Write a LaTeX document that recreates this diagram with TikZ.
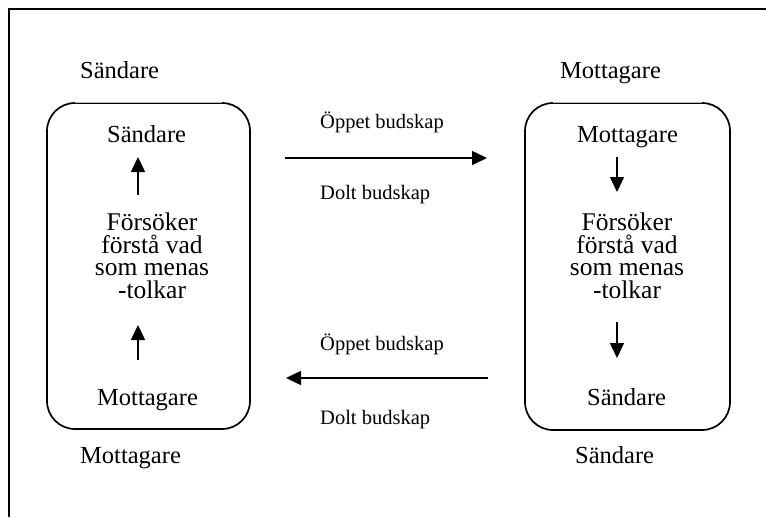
\documentclass[tikz,border=0pt]{standalone}
\usepackage{fontspec}
\setmainfont{Liberation Serif}
\usetikzlibrary{arrows.meta}

\begin{document}
\begin{tikzpicture}[x=1pt,y=-1pt,
  big/.style={font=\fontsize{24.5}{21.7}\selectfont, inner sep=0pt},
  multi/.style={font=\fontsize{25.5}{22.5}\selectfont, inner sep=0pt, align=center},
  small/.style={font=\fontsize{20.5}{24}\selectfont, inner sep=0pt},
  frame/.style={draw, line width=1.7pt, rounded corners=28pt, inner sep=0pt},
  flow/.style={line width=1.5pt, -{Triangle[length=15pt,width=14pt]}},
  topedge/.style={draw=gray!55, line width=0.6pt},
]
\useasboundingbox (0,0) rectangle (766,517);

% outer frame: top and left edges only
\draw[line width=1.8pt] (9,517) -- (9,9) -- (766,9);

% the two rounded boxes
\node[frame, minimum width=203pt, minimum height=326pt] (boxL) at (148.5,266) {};
\node[frame, minimum width=205pt, minimum height=327pt] (boxR) at (627.5,266.5) {};
% the straight top edges are drawn thin and light
\draw[white, line width=2.4pt] ([xshift=29pt]boxL.north west) -- ([xshift=-29pt]boxL.north east);
\draw[topedge] ([xshift=29pt]boxL.north west) -- ([xshift=-29pt]boxL.north east);
\draw[white, line width=2.4pt] ([xshift=29pt]boxR.north west) -- ([xshift=-29pt]boxR.north east);
\draw[topedge] ([xshift=29pt]boxR.north west) -- ([xshift=-29pt]boxR.north east);

% outer labels
\node[big, anchor=base west] (outTL) at (80,78) {Sändare};
\node[big, anchor=base west] (outTR) at (560,78) {Mottagare};
\node[big, anchor=base west] (outBL) at (80,463) {Mottagare};
\node[big, anchor=base west] (outBR) at (575,463) {Sändare};

% left box contents
\node[big, anchor=base west] (sL) at (107,142) {Sändare};
\node[multi] (tolkL) at (152,256) {Försöker\\förstå vad\\som menas\\-tolkar};
\node[big, anchor=base west] (mL) at (97,405) {Mottagare};

% right box contents
\node[big, anchor=base west] (mR) at (577,142) {Mottagare};
\node[multi] (tolkR) at (627,256) {Försöker\\förstå vad\\som menas\\-tolkar};
\node[big, anchor=base west] (sR) at (587,405) {Sändare};

% message labels
\node[small, anchor=base west] (openT) at (320,128) {Öppet budskap};
\node[small, anchor=base west] (hidT) at (320,199) {Dolt budskap};
\node[small, anchor=base west] (openB) at (320,350) {Öppet budskap};
\node[small, anchor=base west] (hidB) at (320,424) {Dolt budskap};

% arrow end points
\coordinate (aL1) at (138,195); \coordinate (aL2) at (138,157);
\coordinate (aL3) at (138,360); \coordinate (aL4) at (138,325);
\coordinate (aR1) at (617,157); \coordinate (aR2) at (617,192);
\coordinate (aR3) at (617,322); \coordinate (aR4) at (617,358);
\coordinate (hT1) at (285,158); \coordinate (hT2) at (487,158);
\coordinate (hB1) at (488,378); \coordinate (hB2) at (286,378);

\draw[flow] (aL1) -- (aL2);
\draw[flow] (aL3) -- (aL4);
\draw[flow] (aR1) -- (aR2);
\draw[flow] (aR3) -- (aR4);
\draw[flow] (hT1) -- (hT2);
\draw[flow] (hB1) -- (hB2);
\end{tikzpicture}
\end{document}
